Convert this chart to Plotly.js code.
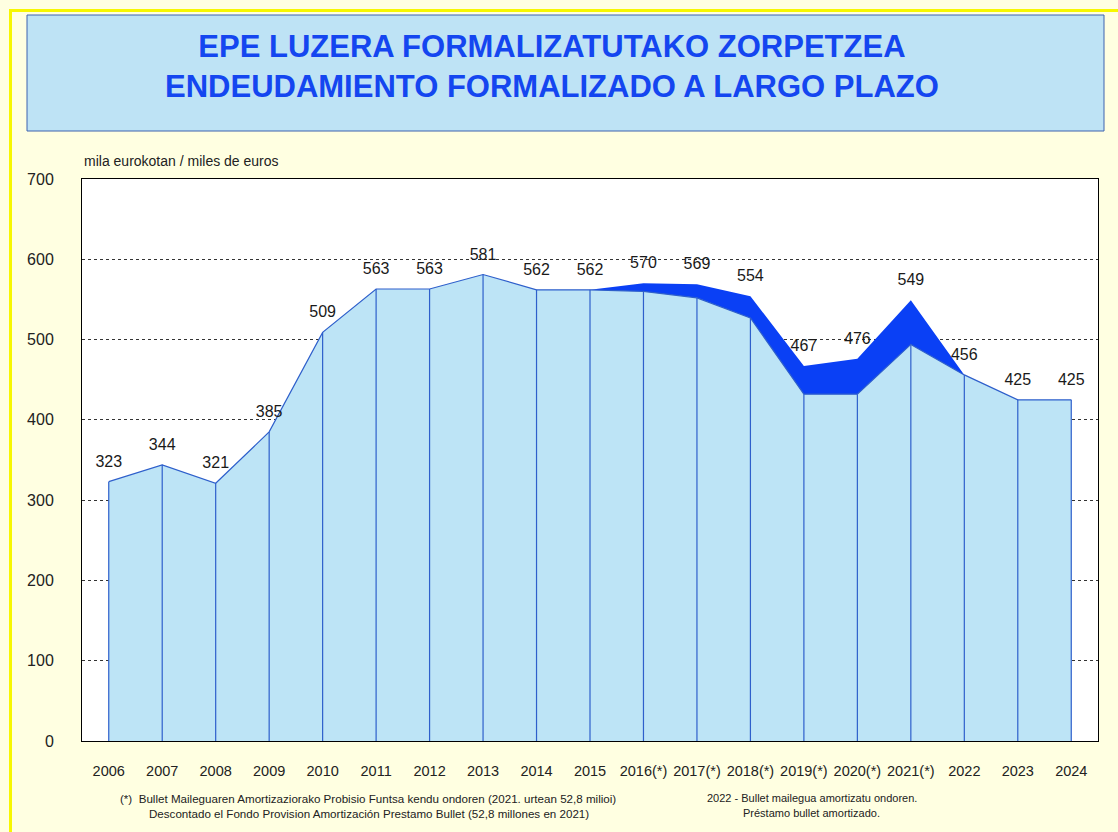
<!DOCTYPE html>
<html>
<head>
<meta charset="utf-8">
<script src="https://cdn.plot.ly/plotly-3.0.1.min.js"></script>
<style>
  html, body { margin: 0; padding: 0; background: #FFFFE1; }
  #chart { width: 1118px; height: 832px; }
</style>
</head>
<body>
<div id="chart"></div>
<script>
// ---- data ----
const categories = ["2006","2007","2008","2009","2010","2011","2012","2013","2014","2015",
  "2016(*)","2017(*)","2018(*)","2019(*)","2020(*)","2021(*)","2022","2023","2024"];
// reported debt (labels)
const totalValues = [323,344,321,385,509,563,563,581,562,562,570,569,554,467,476,549,456,425,425];
// debt after deducting the bullet loan amortization provision fund
const netValues   = [323,344,321,385,509,563,563,581,562,562,560,552,527,432,432,494,456,425,425];
const zeros = netValues.map(() => 0);

const titleLines = ["EPE LUZERA FORMALIZATUTAKO ZORPETZEA", "ENDEUDAMIENTO FORMALIZADO A LARGO PLAZO"];
const unitLabel = "mila eurokotan / miles de euros";
const noteLeft = ["(*)  Bullet Maileguaren Amortizaziorako Probisio Funtsa kendu ondoren (2021. urtean 52,8 milioi)",
                  "Descontado el Fondo Provision Amortización Prestamo Bullet (52,8 millones en 2021)"];
const noteRight = ["2022 - Bullet mailegua amortizatu ondoren.", "Préstamo bullet amortizado."];

// ---- layout helpers (pixel -> paper) ----
const L = 82, R = 1098, T = 179, B = 741;
const W = R - L, H = B - T;
const px = x => (x - L) / W;
const py = y => (B - y) / H;

const FONT = "Arial, 'Liberation Sans', sans-serif";

const traces = [
  {
    x: categories, y: netValues, type: "scatter", mode: "lines",
    fill: "tozeroy", fillcolor: "#BDE4F6",
    line: { color: "#2E5FCB", width: 1.2 },
    error_y: { type: "data", symmetric: false, array: zeros, arrayminus: netValues,
               width: 0, thickness: 1.2, color: "#2E5FCB" },
    hoverinfo: "skip", showlegend: false
  },
  {
    x: categories, y: totalValues, type: "scatter", mode: "lines",
    fill: "tonexty", fillcolor: "#0A40F5",
    line: { color: "#0A40F5", width: 0 },
    hoverinfo: "skip", showlegend: false
  },
  {
    x: categories, y: totalValues, type: "scatter", mode: "markers+text",
    text: totalValues.map(String), textposition: "top center",
    textfont: { family: FONT, size: 16, color: "#1a1a1a" },
    marker: { size: 16, opacity: 0 },
    hoverinfo: "skip", showlegend: false
  }
];

const annotations = [
  { text: titleLines.join("<br>"), x: px(552), y: py(67), xref: "paper", yref: "paper",
    xanchor: "center", yanchor: "middle", showarrow: false, align: "center",
    font: { family: FONT, size: 31, color: "#1446F0", weight: "bold" } },
  { text: unitLabel, x: px(82), y: py(161), xref: "paper", yref: "paper",
    xanchor: "left", yanchor: "middle", showarrow: false,
    font: { family: FONT, size: 14, color: "#222" } },
  { text: noteLeft[0], x: px(118), y: py(798), xref: "paper", yref: "paper",
    xanchor: "left", yanchor: "middle", showarrow: false,
    font: { family: FONT, size: 11.6, color: "#222" } },
  { text: noteLeft[1], x: px(147), y: py(813), xref: "paper", yref: "paper",
    xanchor: "left", yanchor: "middle", showarrow: false,
    font: { family: FONT, size: 11.6, color: "#222" } },
  { text: noteRight[0], x: px(812), y: py(798), xref: "paper", yref: "paper",
    xanchor: "center", yanchor: "middle", showarrow: false,
    font: { family: FONT, size: 11, color: "#222" } },
  { text: noteRight[1], x: px(811), y: py(813), xref: "paper", yref: "paper",
    xanchor: "center", yanchor: "middle", showarrow: false,
    font: { family: FONT, size: 11, color: "#222" } }
];

const shapes = [
  // outer yellow frame
  { type: "rect", xref: "paper", yref: "paper", layer: "below",
    x0: px(10.5), x1: px(1140), y0: py(10.5), y1: py(860),
    line: { color: "#F7F700", width: 3 }, fillcolor: "rgba(0,0,0,0)" },
  // title box
  { type: "rect", xref: "paper", yref: "paper", layer: "below",
    x0: px(27), x1: px(1104), y0: py(15), y1: py(131),
    line: { color: "#3F63AE", width: 1 }, fillcolor: "#BEE3F5" }
];

const layout = {
  width: 1118, height: 832,
  margin: { l: L, r: 1118 - R, t: T, b: 832 - B, pad: 0 },
  paper_bgcolor: "#FFFFE1",
  plot_bgcolor: "#FFFFFF",
  font: { family: FONT, color: "#222" },
  showlegend: false,
  xaxis: {
    type: "category", range: [-0.5, categories.length - 0.5],
    showgrid: false, zeroline: false,
    showline: true, mirror: true, linecolor: "#000", linewidth: 1,
    ticks: "", ticklabelstandoff: 17,
    tickfont: { family: FONT, size: 14.5, color: "#222" },
    fixedrange: true
  },
  yaxis: {
    range: [0, 700], dtick: 100, tick0: 0,
    showgrid: true, gridcolor: "#333", gridwidth: 1, griddash: "3px,3px",
    zeroline: false,
    showline: true, mirror: true, linecolor: "#000", linewidth: 1,
    ticks: "", ticklabelstandoff: 24,
    tickfont: { family: FONT, size: 16, color: "#222" },
    fixedrange: true
  },
  annotations: annotations,
  shapes: shapes
};

Plotly.newPlot("chart", traces, layout, { staticPlot: true, displayModeBar: false });
</script>
</body>
</html>
